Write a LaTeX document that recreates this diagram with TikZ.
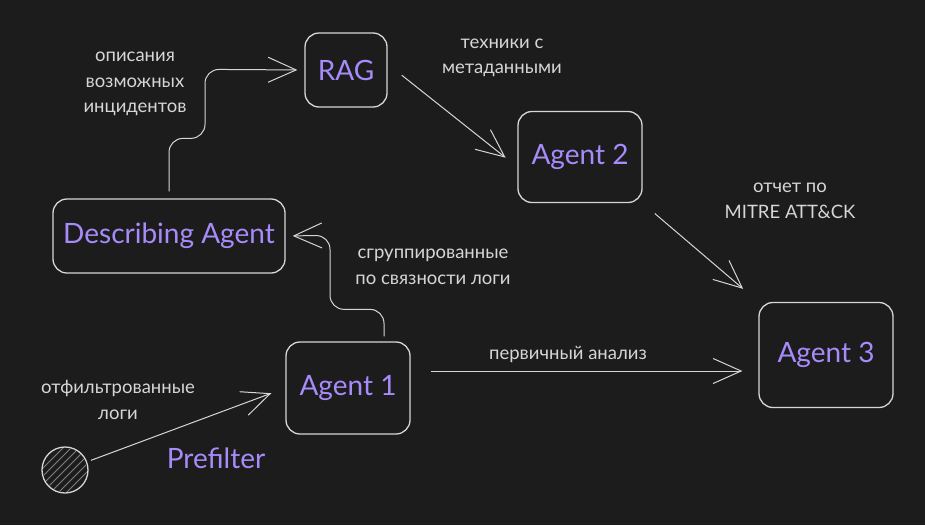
\documentclass[tikz,border=0pt]{standalone}
\usepackage{fontspec}
\setmainfont{Lato}
\usetikzlibrary{arrows.meta}
\definecolor{bgcol}{HTML}{1C1C1C}
\definecolor{inkcol}{HTML}{D6D6D6}
\definecolor{violetcol}{HTML}{A78BFA}
\tikzset{agentbox/.style={draw=inkcol, line width=1.3pt, rounded corners=14pt, text=violetcol, font=\fontsize{28}{32}\selectfont, inner sep=0pt},
flowarrow/.style={draw=inkcol, line width=1pt, -{Straight Barb[length=28pt,width=25pt]}},
%labels on the arrows
edgetext/.style={text=inkcol, align=center, font=\fontsize{18.5}{25.5}\selectfont}}

\begin{document}
\begin{tikzpicture}[x=1pt,y=-1pt]

    \useasboundingbox[fill=bgcol] (0,0) rectangle (925,525);

    \node[agentbox, minimum width=82, minimum height=74] (rag) at (346,70) {RAG};
    \node[agentbox, minimum width=124, minimum height=91] (a2) at (580,157) {Agent 2};
    \node[agentbox, minimum width=232, minimum height=74] (desc) at (169,236) {Describing Agent};
    \node[agentbox, minimum width=124, minimum height=92] (a1) at (348,388) {Agent 1};
    \node[agentbox, minimum width=134, minimum height=105] (a3) at (826,355) {Agent 3};

    \node[circle, draw=inkcol, line width=1.3pt, minimum size=46, inner sep=0pt] (src) at (65,470) {};
    \begin{scope}
    \clip (src.center) circle (22);
    \foreach \k in {-48,-40,...,48}
    \draw[gray, line width=0.9pt] (src.center) ++(\k-30,30) -- ++(60,-60);
    \end{scope}

    \node[edgetext] (t0) at (135,84) {описания\\возможных\\инцидентов};
    \node[edgetext] (t1) at (502,58) {техники с\\метаданными};
    \node[edgetext] (t2) at (790,201) {отчет по\\MITRE ATT\&CK};
    \node[edgetext] (t3) at (433,267) {сгруппированные\\по связности логи};
    \node[edgetext] (t4) at (568,354) {первичный анализ};
    \node[edgetext] (t5) at (118,400) {отфильтрованные\\логи};
    \node[text=violetcol, font=\fontsize{28}{32}\selectfont] (pf) at (216,458) {Prefilter};

    \draw[flowarrow, shorten <=4pt, shorten >=15pt] (src) -- (a1.west);
    \draw[flowarrow, shorten <=20pt, shorten >=16pt] ([yshift=17pt]a1.east) -- ([yshift=-16pt]a3.west);
    \draw[flowarrow, shorten <=18pt, shorten >=15pt] ([yshift=6pt]rag.east) -- ([yshift=-10pt]a2.west);
    \draw[flowarrow, shorten <=16pt, shorten >=20pt] (a2.south east) -- (a3.north west);

    \draw[flowarrow, rounded corners=14pt, shorten >=7pt] ([xshift=36pt,yshift=5pt]a1.north)
        -- ++(0,-27) -- ++(-54,0) -- ++(0,-74) -- (desc.east);
    \draw[flowarrow, rounded corners=14pt, shorten >=7pt] ([yshift=7pt]desc.north)
        -- ++(0,-53) -- ++(36,0) -- ++(0,-69) -- (rag.west);

\end{tikzpicture}
\end{document}
